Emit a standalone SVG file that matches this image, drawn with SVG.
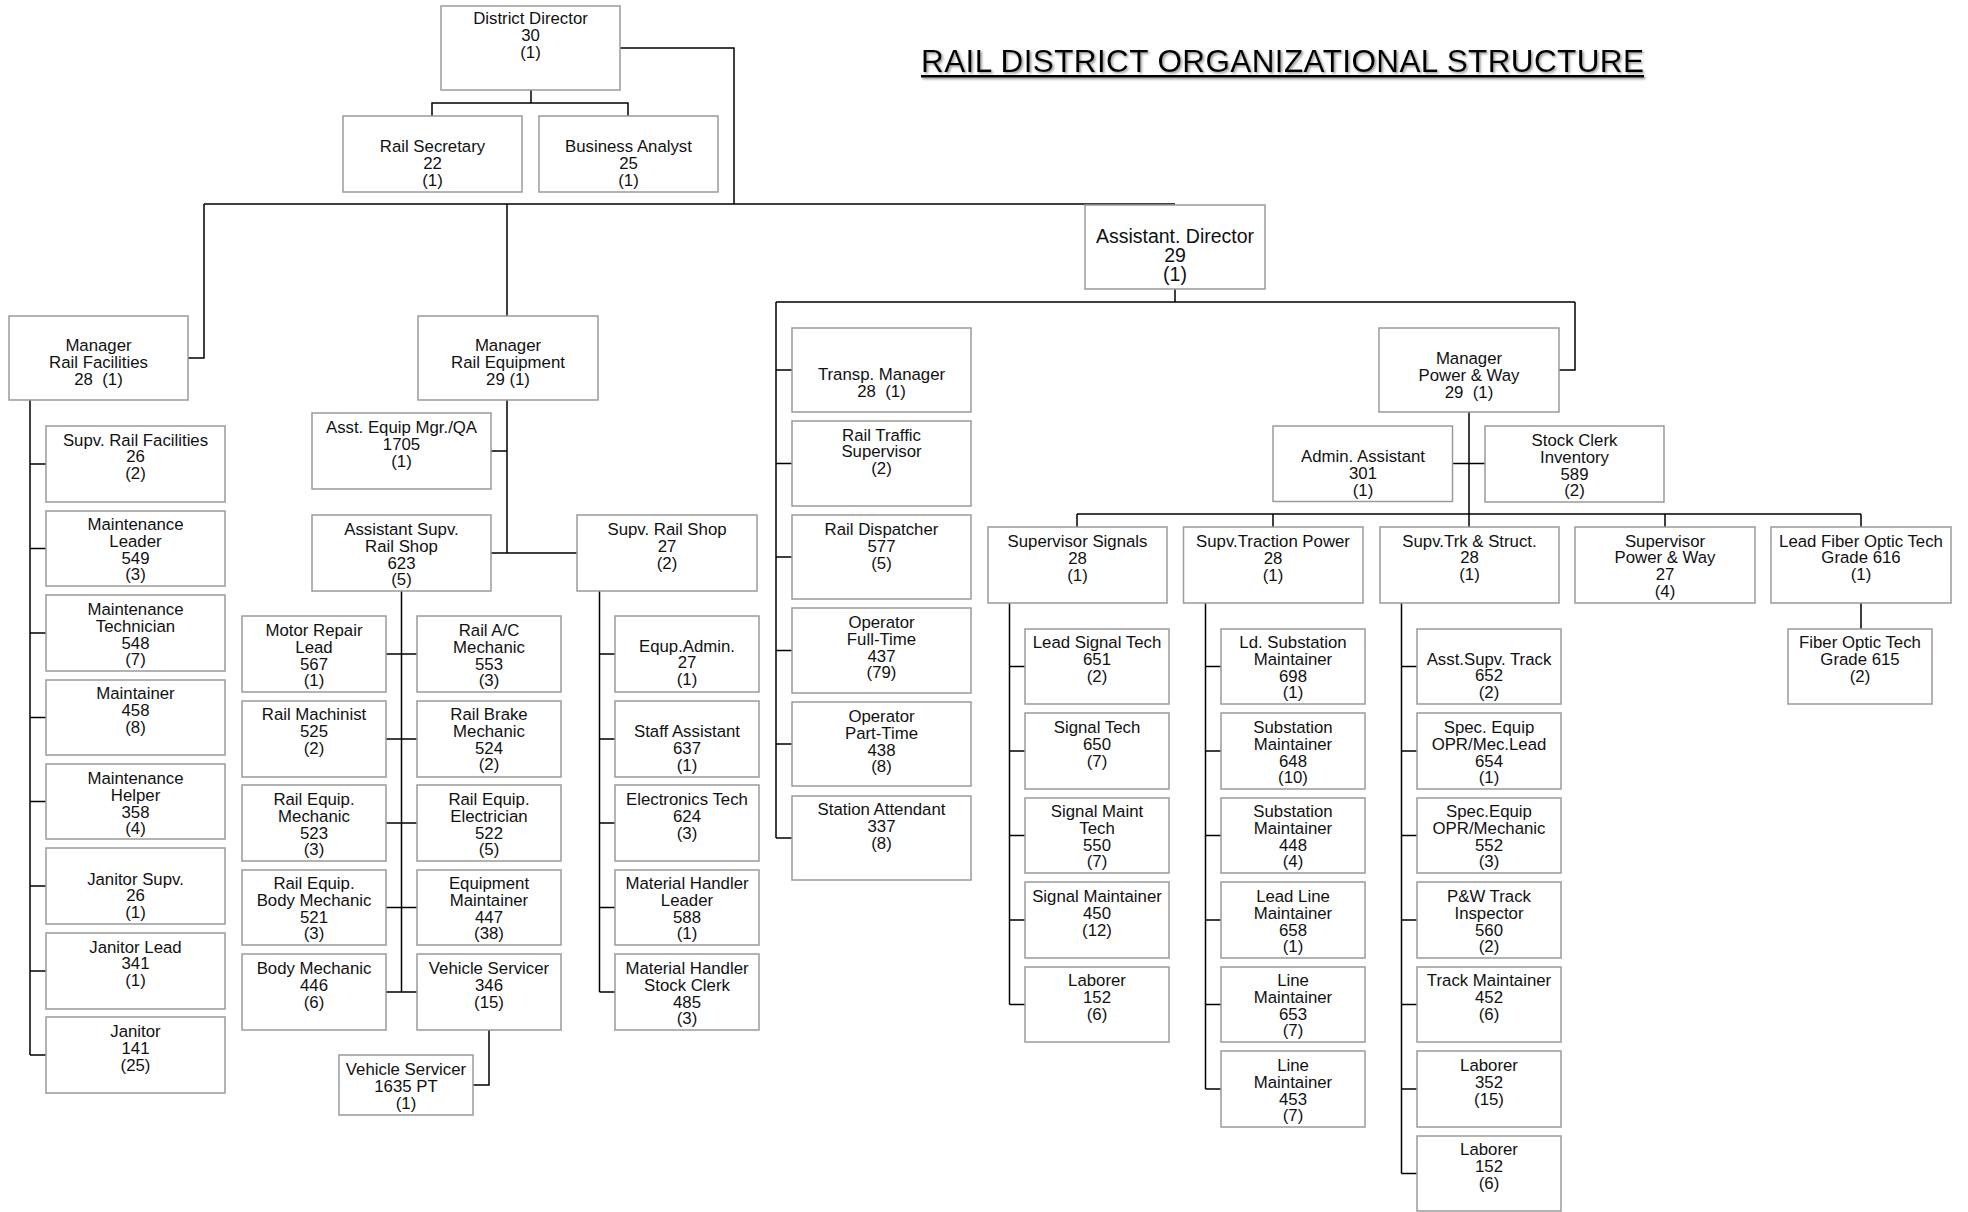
<svg xmlns="http://www.w3.org/2000/svg" width="1968" height="1212" viewBox="0 0 1968 1212">
<style>
.b{fill:#fff;stroke:#9a9a9a;stroke-width:1.5}
.t{font-family:"Liberation Sans",Arial,sans-serif;font-size:16.8px;text-anchor:middle;fill:#111}
.c{fill:none;stroke:#000;stroke-width:1.5}
</style>
<defs>
<filter id="sh" x="-5%" y="-30%" width="110%" height="160%">
<feDropShadow dx="1.5" dy="1.5" stdDeviation="1" flood-color="#777" flood-opacity="0.8"/>
</filter>
</defs>
<rect width="1968" height="1212" fill="#fff"/>
<g id="title" filter="url(#sh)">
<text x="1282.5" y="71.7" font-family="Liberation Sans,Arial,sans-serif" font-size="31.5" text-anchor="middle" fill="#000" textLength="723" lengthAdjust="spacing">RAIL DISTRICT ORGANIZATIONAL STRUCTURE</text>
<rect x="921" y="75" width="723" height="2.6" fill="#000"/>
</g>
<g id="connectors">
<path class="c" d="M531,90V103M432,116V103H628V116M620,48H734V204M204,204H1175M204,204V358H188M507,204V316
M30,400V1055M30,464H46M30,548.5H46M30,633H46M30,717.5H46M30,801.5H46M30,886H46M30,971H46M30,1055H46
M507,400V553M491,451H507M491,553H577
M401.5,591V992M385.5,654H417M385.5,739H417M385.5,823H417M385.5,907.5H417M385.5,992H417
M599.5,591V992M599.5,654H615M599.5,739H615M599.5,823H615M599.5,907.5H615M599.5,992H615
M489,1030V1085H473
M1175,289V302M776,302H1575M776,302V838M776,370H792M776,463.5H792M776,557H792M776,650.5H792M776,744H792M776,838H792
M1575,302V370H1559
M1469,412V527M1452.5,463.5H1485M1077,514H1861M1077,514V527M1273,514V527M1665,514V527M1861,514V527M1861,603V629
M1009.5,603V1004.5M1009.5,666.5H1025M1009.5,751H1025M1009.5,835.5H1025M1009.5,920H1025M1009.5,1004.5H1025
M1205.5,603V1089M1205.5,666.5H1221M1205.5,751H1221M1205.5,835.5H1221M1205.5,920H1221M1205.5,1004.5H1221M1205.5,1089H1221
M1401.5,603V1173.5M1401.5,666.5H1417M1401.5,751H1417M1401.5,835.5H1417M1401.5,920H1417M1401.5,1004.5H1417M1401.5,1089H1417M1401.5,1173.5H1417"/>
</g>

<g id="n-district-director"><rect class="b" x="441" y="6" width="179" height="84"/><text class="t"><tspan x="530.5" y="24">District Director</tspan><tspan x="530.5" y="40.8">30</tspan><tspan x="530.5" y="57.6">(1)</tspan></text></g>
<g id="n-rail-secretary"><rect class="b" x="343" y="116" width="179" height="76"/><text class="t"><tspan x="432.5" y="152">Rail Secretary</tspan><tspan x="432.5" y="168.8">22</tspan><tspan x="432.5" y="185.6">(1)</tspan></text></g>
<g id="n-business-analyst"><rect class="b" x="539" y="116" width="179" height="76"/><text class="t"><tspan x="628.5" y="152">Business Analyst</tspan><tspan x="628.5" y="168.8">25</tspan><tspan x="628.5" y="185.6">(1)</tspan></text></g>
<g id="n-assistant-director"><rect class="b" x="1085" y="205" width="180" height="84"/><text class="t" style="font-size:19.5px"><tspan x="1175" y="243">Assistant. Director</tspan><tspan x="1175" y="262">29</tspan><tspan x="1175" y="281">(1)</tspan></text></g>

<g id="n-mgr-rail-facilities"><rect class="b" x="9" y="316" width="179" height="84"/><text class="t"><tspan x="98.5" y="351">Manager</tspan><tspan x="98.5" y="367.8">Rail Facilities</tspan><tspan x="98.5" y="384.6">28&#160; (1)</tspan></text></g>
<g id="n-mgr-rail-equipment"><rect class="b" x="418" y="316" width="180" height="84"/><text class="t"><tspan x="508" y="351">Manager</tspan><tspan x="508" y="367.8">Rail Equipment</tspan><tspan x="508" y="384.6">29 (1)</tspan></text></g>

<g id="n-supv-rail-facilities"><rect class="b" x="46" y="426" width="179" height="76"/><text class="t"><tspan x="135.5" y="445.5">Supv. Rail Facilities</tspan><tspan x="135.5" y="462.3">26</tspan><tspan x="135.5" y="479.1">(2)</tspan></text></g>
<g id="n-maintenance-leader"><rect class="b" x="46" y="511" width="179" height="75"/><text class="t"><tspan x="135.5" y="530">Maintenance</tspan><tspan x="135.5" y="546.8">Leader</tspan><tspan x="135.5" y="563.6">549</tspan><tspan x="135.5" y="580.4">(3)</tspan></text></g>
<g id="n-maintenance-technician"><rect class="b" x="46" y="595" width="179" height="76"/><text class="t"><tspan x="135.5" y="615">Maintenance</tspan><tspan x="135.5" y="631.8">Technician</tspan><tspan x="135.5" y="648.6">548</tspan><tspan x="135.5" y="665.4">(7)</tspan></text></g>
<g id="n-maintainer"><rect class="b" x="46" y="680" width="179" height="75"/><text class="t"><tspan x="135.5" y="699">Maintainer</tspan><tspan x="135.5" y="715.8">458</tspan><tspan x="135.5" y="732.6">(8)</tspan></text></g>
<g id="n-maintenance-helper"><rect class="b" x="46" y="764" width="179" height="75"/><text class="t"><tspan x="135.5" y="784">Maintenance</tspan><tspan x="135.5" y="800.8">Helper</tspan><tspan x="135.5" y="817.6">358</tspan><tspan x="135.5" y="834.4">(4)</tspan></text></g>
<g id="n-janitor-supv"><rect class="b" x="46" y="848" width="179" height="76"/><text class="t"><tspan x="135.5" y="884.5">Janitor Supv.</tspan><tspan x="135.5" y="901.3">26</tspan><tspan x="135.5" y="918.1">(1)</tspan></text></g>
<g id="n-janitor-lead"><rect class="b" x="46" y="933" width="179" height="76"/><text class="t"><tspan x="135.5" y="952.5">Janitor Lead</tspan><tspan x="135.5" y="969.3">341</tspan><tspan x="135.5" y="986.1">(1)</tspan></text></g>
<g id="n-janitor"><rect class="b" x="46" y="1017" width="179" height="76"/><text class="t"><tspan x="135.5" y="1037">Janitor</tspan><tspan x="135.5" y="1053.8">141</tspan><tspan x="135.5" y="1070.6">(25)</tspan></text></g>

<g id="n-asst-equip-mgr"><rect class="b" x="312" y="413" width="179" height="76"/><text class="t"><tspan x="401.5" y="433">Asst. Equip Mgr./QA</tspan><tspan x="401.5" y="449.8">1705</tspan><tspan x="401.5" y="466.6">(1)</tspan></text></g>
<g id="n-asst-supv-rail-shop"><rect class="b" x="312" y="515" width="179" height="76"/><text class="t"><tspan x="401.5" y="535">Assistant Supv.</tspan><tspan x="401.5" y="551.8">Rail Shop</tspan><tspan x="401.5" y="568.6">623</tspan><tspan x="401.5" y="585.4">(5)</tspan></text></g>
<g id="n-supv-rail-shop"><rect class="b" x="577" y="515" width="180" height="76"/><text class="t"><tspan x="667" y="535">Supv. Rail Shop</tspan><tspan x="667" y="551.8">27</tspan><tspan x="667" y="568.6">(2)</tspan></text></g>

<g id="n-motor-repair-lead"><rect class="b" x="242" y="616" width="144" height="76"/><text class="t"><tspan x="314" y="636">Motor Repair</tspan><tspan x="314" y="652.8">Lead</tspan><tspan x="314" y="669.6">567</tspan><tspan x="314" y="686.4">(1)</tspan></text></g>
<g id="n-rail-ac-mechanic"><rect class="b" x="417" y="616" width="144" height="76"/><text class="t"><tspan x="489" y="636">Rail A/C</tspan><tspan x="489" y="652.8">Mechanic</tspan><tspan x="489" y="669.6">553</tspan><tspan x="489" y="686.4">(3)</tspan></text></g>
<g id="n-rail-machinist"><rect class="b" x="242" y="701" width="144" height="76"/><text class="t"><tspan x="314" y="720">Rail Machinist</tspan><tspan x="314" y="736.8">525</tspan><tspan x="314" y="753.6">(2)</tspan></text></g>
<g id="n-rail-brake-mechanic"><rect class="b" x="417" y="701" width="144" height="76"/><text class="t"><tspan x="489" y="720">Rail Brake</tspan><tspan x="489" y="736.8">Mechanic</tspan><tspan x="489" y="753.6">524</tspan><tspan x="489" y="770.4">(2)</tspan></text></g>
<g id="n-rail-equip-mechanic"><rect class="b" x="242" y="785" width="144" height="76"/><text class="t"><tspan x="314" y="805">Rail Equip.</tspan><tspan x="314" y="821.8">Mechanic</tspan><tspan x="314" y="838.6">523</tspan><tspan x="314" y="855.4">(3)</tspan></text></g>
<g id="n-rail-equip-electrician"><rect class="b" x="417" y="785" width="144" height="76"/><text class="t"><tspan x="489" y="805">Rail Equip.</tspan><tspan x="489" y="821.8">Electrician</tspan><tspan x="489" y="838.6">522</tspan><tspan x="489" y="855.4">(5)</tspan></text></g>
<g id="n-rail-equip-body-mechanic"><rect class="b" x="242" y="870" width="144" height="75"/><text class="t"><tspan x="314" y="889">Rail Equip.</tspan><tspan x="314" y="905.8">Body Mechanic</tspan><tspan x="314" y="922.6">521</tspan><tspan x="314" y="939.4">(3)</tspan></text></g>
<g id="n-equipment-maintainer"><rect class="b" x="417" y="870" width="144" height="75"/><text class="t"><tspan x="489" y="889">Equipment</tspan><tspan x="489" y="905.8">Maintainer</tspan><tspan x="489" y="922.6">447</tspan><tspan x="489" y="939.4">(38)</tspan></text></g>
<g id="n-body-mechanic"><rect class="b" x="242" y="954" width="144" height="76"/><text class="t"><tspan x="314" y="974">Body Mechanic</tspan><tspan x="314" y="990.8">446</tspan><tspan x="314" y="1007.6">(6)</tspan></text></g>
<g id="n-vehicle-servicer"><rect class="b" x="417" y="954" width="144" height="76"/><text class="t"><tspan x="489" y="974">Vehicle Servicer</tspan><tspan x="489" y="990.8">346</tspan><tspan x="489" y="1007.6">(15)</tspan></text></g>
<g id="n-vehicle-servicer-pt"><rect class="b" x="339" y="1055" width="134" height="60"/><text class="t"><tspan x="406" y="1075">Vehicle Servicer</tspan><tspan x="406" y="1091.8">1635 PT</tspan><tspan x="406" y="1108.6">(1)</tspan></text></g>

<g id="n-equp-admin"><rect class="b" x="615" y="616" width="144" height="76"/><text class="t"><tspan x="687" y="651.5">Equp.Admin.</tspan><tspan x="687" y="668.3">27</tspan><tspan x="687" y="685.1">(1)</tspan></text></g>
<g id="n-staff-assistant"><rect class="b" x="615" y="701" width="144" height="76"/><text class="t"><tspan x="687" y="737">Staff Assistant</tspan><tspan x="687" y="753.8">637</tspan><tspan x="687" y="770.6">(1)</tspan></text></g>
<g id="n-electronics-tech"><rect class="b" x="615" y="785" width="144" height="76"/><text class="t"><tspan x="687" y="805">Electronics Tech</tspan><tspan x="687" y="821.8">624</tspan><tspan x="687" y="838.6">(3)</tspan></text></g>
<g id="n-material-handler-leader"><rect class="b" x="615" y="870" width="144" height="75"/><text class="t"><tspan x="687" y="889">Material Handler</tspan><tspan x="687" y="905.8">Leader</tspan><tspan x="687" y="922.6">588</tspan><tspan x="687" y="939.4">(1)</tspan></text></g>
<g id="n-material-handler-stock-clerk"><rect class="b" x="615" y="954" width="144" height="76"/><text class="t"><tspan x="687" y="974">Material Handler</tspan><tspan x="687" y="990.8">Stock Clerk</tspan><tspan x="687" y="1007.6">485</tspan><tspan x="687" y="1024.4">(3)</tspan></text></g>

<g id="n-transp-manager"><rect class="b" x="792" y="328" width="179" height="84"/><text class="t"><tspan x="881.5" y="380">Transp. Manager</tspan><tspan x="881.5" y="396.8">28&#160; (1)</tspan></text></g>
<g id="n-rail-traffic-supervisor"><rect class="b" x="792" y="421" width="179" height="85"/><text class="t"><tspan x="881.5" y="440.5">Rail Traffic</tspan><tspan x="881.5" y="457.3">Supervisor</tspan><tspan x="881.5" y="474.1">(2)</tspan></text></g>
<g id="n-rail-dispatcher"><rect class="b" x="792" y="515" width="179" height="84"/><text class="t"><tspan x="881.5" y="535">Rail Dispatcher</tspan><tspan x="881.5" y="551.8">577</tspan><tspan x="881.5" y="568.6">(5)</tspan></text></g>
<g id="n-operator-full-time"><rect class="b" x="792" y="608" width="179" height="85"/><text class="t"><tspan x="881.5" y="628">Operator</tspan><tspan x="881.5" y="644.8">Full-Time</tspan><tspan x="881.5" y="661.6">437</tspan><tspan x="881.5" y="678.4">(79)</tspan></text></g>
<g id="n-operator-part-time"><rect class="b" x="792" y="702" width="179" height="84"/><text class="t"><tspan x="881.5" y="722">Operator</tspan><tspan x="881.5" y="738.8">Part-Time</tspan><tspan x="881.5" y="755.6">438</tspan><tspan x="881.5" y="772.4">(8)</tspan></text></g>
<g id="n-station-attendant"><rect class="b" x="792" y="796" width="179" height="84"/><text class="t"><tspan x="881.5" y="815">Station Attendant</tspan><tspan x="881.5" y="831.8">337</tspan><tspan x="881.5" y="848.6">(8)</tspan></text></g>

<g id="n-mgr-power-way"><rect class="b" x="1379" y="328" width="180" height="84"/><text class="t"><tspan x="1469" y="364">Manager</tspan><tspan x="1469" y="380.8">Power &amp; Way</tspan><tspan x="1469" y="397.6">29&#160; (1)</tspan></text></g>
<g id="n-admin-assistant"><rect class="b" x="1273" y="426" width="179.5" height="75.5"/><text class="t"><tspan x="1363" y="462">Admin. Assistant</tspan><tspan x="1363" y="478.8">301</tspan><tspan x="1363" y="495.6">(1)</tspan></text></g>
<g id="n-stock-clerk"><rect class="b" x="1485" y="426" width="179" height="76"/><text class="t"><tspan x="1574.5" y="446">Stock Clerk</tspan><tspan x="1574.5" y="462.8">Inventory</tspan><tspan x="1574.5" y="479.6">589</tspan><tspan x="1574.5" y="496.4">(2)</tspan></text></g>

<g id="n-supervisor-signals"><rect class="b" x="988" y="527" width="179" height="76"/><text class="t"><tspan x="1077.5" y="547">Supervisor Signals</tspan><tspan x="1077.5" y="563.8">28</tspan><tspan x="1077.5" y="580.6">(1)</tspan></text></g>
<g id="n-supv-traction-power"><rect class="b" x="1183.5" y="527" width="179.5" height="76"/><text class="t"><tspan x="1273" y="547">Supv.Traction Power</tspan><tspan x="1273" y="563.8">28</tspan><tspan x="1273" y="580.6">(1)</tspan></text></g>
<g id="n-supv-trk-struct"><rect class="b" x="1380" y="527" width="179" height="76"/><text class="t"><tspan x="1469.5" y="546.5">Supv.Trk &amp; Struct.</tspan><tspan x="1469.5" y="563.3">28</tspan><tspan x="1469.5" y="580.1">(1)</tspan></text></g>
<g id="n-supervisor-power-way"><rect class="b" x="1575" y="527" width="180" height="76"/><text class="t"><tspan x="1665" y="546.5">Supervisor</tspan><tspan x="1665" y="563.3">Power &amp; Way</tspan><tspan x="1665" y="580.1">27</tspan><tspan x="1665" y="596.9">(4)</tspan></text></g>
<g id="n-lead-fiber-optic-tech"><rect class="b" x="1771" y="527" width="180" height="76"/><text class="t"><tspan x="1861" y="546.5">Lead Fiber Optic Tech</tspan><tspan x="1861" y="563.3">Grade 616</tspan><tspan x="1861" y="580.1">(1)</tspan></text></g>
<g id="n-fiber-optic-tech"><rect class="b" x="1788" y="629" width="144" height="75"/><text class="t"><tspan x="1860" y="648">Fiber Optic Tech</tspan><tspan x="1860" y="664.8">Grade 615</tspan><tspan x="1860" y="681.6">(2)</tspan></text></g>

<g id="n-lead-signal-tech"><rect class="b" x="1025" y="629" width="144" height="75"/><text class="t"><tspan x="1097" y="648">Lead Signal Tech</tspan><tspan x="1097" y="664.8">651</tspan><tspan x="1097" y="681.6">(2)</tspan></text></g>
<g id="n-signal-tech"><rect class="b" x="1025" y="713" width="144" height="76"/><text class="t"><tspan x="1097" y="733">Signal Tech</tspan><tspan x="1097" y="749.8">650</tspan><tspan x="1097" y="766.6">(7)</tspan></text></g>
<g id="n-signal-maint-tech"><rect class="b" x="1025" y="798" width="144" height="75"/><text class="t"><tspan x="1097" y="817">Signal Maint</tspan><tspan x="1097" y="833.8">Tech</tspan><tspan x="1097" y="850.6">550</tspan><tspan x="1097" y="867.4">(7)</tspan></text></g>
<g id="n-signal-maintainer"><rect class="b" x="1025" y="882" width="144" height="76"/><text class="t"><tspan x="1097" y="902">Signal Maintainer</tspan><tspan x="1097" y="918.8">450</tspan><tspan x="1097" y="935.6">(12)</tspan></text></g>
<g id="n-signal-laborer"><rect class="b" x="1025" y="967" width="144" height="75"/><text class="t"><tspan x="1097" y="986">Laborer</tspan><tspan x="1097" y="1002.8">152</tspan><tspan x="1097" y="1019.6">(6)</tspan></text></g>

<g id="n-ld-substation-maintainer"><rect class="b" x="1221" y="629" width="144" height="75"/><text class="t"><tspan x="1293" y="648">Ld. Substation</tspan><tspan x="1293" y="664.8">Maintainer</tspan><tspan x="1293" y="681.6">698</tspan><tspan x="1293" y="698.4">(1)</tspan></text></g>
<g id="n-substation-maintainer-648"><rect class="b" x="1221" y="713" width="144" height="76"/><text class="t"><tspan x="1293" y="733">Substation</tspan><tspan x="1293" y="749.8">Maintainer</tspan><tspan x="1293" y="766.6">648</tspan><tspan x="1293" y="783.4">(10)</tspan></text></g>
<g id="n-substation-maintainer-448"><rect class="b" x="1221" y="798" width="144" height="75"/><text class="t"><tspan x="1293" y="817">Substation</tspan><tspan x="1293" y="833.8">Maintainer</tspan><tspan x="1293" y="850.6">448</tspan><tspan x="1293" y="867.4">(4)</tspan></text></g>
<g id="n-lead-line-maintainer"><rect class="b" x="1221" y="882" width="144" height="76"/><text class="t"><tspan x="1293" y="902">Lead Line</tspan><tspan x="1293" y="918.8">Maintainer</tspan><tspan x="1293" y="935.6">658</tspan><tspan x="1293" y="952.4">(1)</tspan></text></g>
<g id="n-line-maintainer-653"><rect class="b" x="1221" y="967" width="144" height="75"/><text class="t"><tspan x="1293" y="986">Line</tspan><tspan x="1293" y="1002.8">Maintainer</tspan><tspan x="1293" y="1019.6">653</tspan><tspan x="1293" y="1036.4">(7)</tspan></text></g>
<g id="n-line-maintainer-453"><rect class="b" x="1221" y="1051" width="144" height="76"/><text class="t"><tspan x="1293" y="1071">Line</tspan><tspan x="1293" y="1087.8">Maintainer</tspan><tspan x="1293" y="1104.6">453</tspan><tspan x="1293" y="1121.4">(7)</tspan></text></g>

<g id="n-asst-supv-track"><rect class="b" x="1417" y="629" width="144" height="75"/><text class="t"><tspan x="1489" y="664.5">Asst.Supv. Track</tspan><tspan x="1489" y="681.3">652</tspan><tspan x="1489" y="698.1">(2)</tspan></text></g>
<g id="n-spec-equip-lead"><rect class="b" x="1417" y="713" width="144" height="76"/><text class="t"><tspan x="1489" y="733">Spec. Equip</tspan><tspan x="1489" y="749.8">OPR/Mec.Lead</tspan><tspan x="1489" y="766.6">654</tspan><tspan x="1489" y="783.4">(1)</tspan></text></g>
<g id="n-spec-equip-mechanic"><rect class="b" x="1417" y="798" width="144" height="75"/><text class="t"><tspan x="1489" y="817">Spec.Equip</tspan><tspan x="1489" y="833.8">OPR/Mechanic</tspan><tspan x="1489" y="850.6">552</tspan><tspan x="1489" y="867.4">(3)</tspan></text></g>
<g id="n-pw-track-inspector"><rect class="b" x="1417" y="882" width="144" height="76"/><text class="t"><tspan x="1489" y="902">P&amp;W Track</tspan><tspan x="1489" y="918.8">Inspector</tspan><tspan x="1489" y="935.6">560</tspan><tspan x="1489" y="952.4">(2)</tspan></text></g>
<g id="n-track-maintainer"><rect class="b" x="1417" y="967" width="144" height="75"/><text class="t"><tspan x="1489" y="986">Track Maintainer</tspan><tspan x="1489" y="1002.8">452</tspan><tspan x="1489" y="1019.6">(6)</tspan></text></g>
<g id="n-track-laborer-352"><rect class="b" x="1417" y="1051" width="144" height="76"/><text class="t"><tspan x="1489" y="1071">Laborer</tspan><tspan x="1489" y="1087.8">352</tspan><tspan x="1489" y="1104.6">(15)</tspan></text></g>
<g id="n-track-laborer-152"><rect class="b" x="1417" y="1136" width="144" height="75"/><text class="t"><tspan x="1489" y="1155">Laborer</tspan><tspan x="1489" y="1171.8">152</tspan><tspan x="1489" y="1188.6">(6)</tspan></text></g>
</svg>
